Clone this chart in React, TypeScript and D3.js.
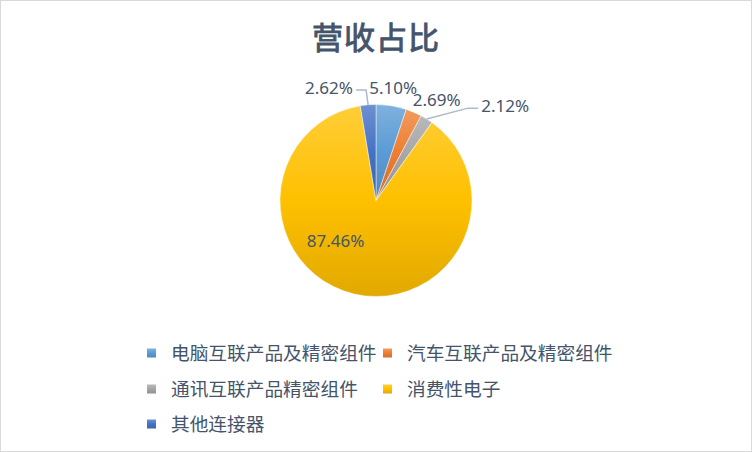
import * as React from "react"
import * as d3 from "d3"

const categories = ["电脑互联产品及精密组件", "汽车互联产品及精密组件", "通讯互联产品精密组件", "消费性电子", "其他连接器"]
const shares = [5.10, 2.69, 2.12, 87.46, 2.62]
const colors = ["#5B9BD5", "#ED7D31", "#A5A5A5", "#FFC000", "#4472C4"]
const title = "营收占比"

// label layout per slice: radius, angle shift (deg), leader line
const labelLayout = [
    { r: 114, da: -0.5, leader: false },
    { r: 117, da: 8, leader: false },
    { r: 160, da: 22, leader: true },
    { r: 57, da: 32, leader: false },
    { r: 122, da: -18, leader: true },
]

const App = () => {
    const [w, h] = [752, 452]
    const [cx, cy, R] = [376, 200.5, 96]
    const textColor = "#44546A"
    const font = "'Noto Sans CJK SC', 'Noto Sans', sans-serif"
    const labelSize = 17

    const data = categories.map((name, i) => ({ name, value: shares[i], color: colors[i], i }))
    const pie = d3.pie<typeof data[0]>().value(d => d.value).sort(null)
    const arcs = pie(data)
    const arc = d3.arc<d3.PieArcDatum<typeof data[0]>>().innerRadius(0).outerRadius(R)

    const polar = (a: number, r: number): [number, number] => [Math.sin(a) * r, -Math.cos(a) * r]

    const gradients = colors.map((c, i) => (
        <linearGradient key={i} id={`g${i}`} x1="0" y1="0" x2="0" y2="1">
            <stop offset="0" stopColor={d3.interpolateRgb(c, "#ffffff")(0.22)} />
            <stop offset="0.5" stopColor={c} />
            <stop offset="1" stopColor={d3.color(c)!.darker(0.35).formatHex()} />
        </linearGradient>
    ))

    const slices = arcs.map((a, i) => (
        <path key={i} d={arc(a) ?? ""} fill={`url(#g${i})`} stroke="#ffffff" strokeWidth={0.75} strokeOpacity={0.6} />
    ))

    const labels = arcs.map((a, i) => {
        const mid = (a.startAngle + a.endAngle) / 2
        const lay = labelLayout[i]
        const [lx, ly] = polar(mid + lay.da * Math.PI / 180, lay.r)
        const txt = `${shares[i].toFixed(2)}%`
        let leader = null
        if (lay.leader) {
            const [px, py] = polar(mid, R)
            const halfW = txt.length * labelSize * 0.285
            const side = lx > px ? -1 : 1
            const endX = lx + side * (halfW + 3)
            const elbowX = endX + side * 10
            leader = (
                <polyline
                    points={`${px},${py} ${elbowX},${ly + 2} ${endX},${ly + 2}`}
                    fill="none"
                    stroke="#ADB9CA"
                    strokeWidth={1.5}
                />
            )
        }
        return (
            <g key={i}>
                {leader}
                <text x={lx} y={ly} dy="0.35em" textAnchor="middle" fontSize={labelSize} fill={textColor} fontFamily="'Noto Sans', sans-serif">
                    {txt}
                </text>
            </g>
        )
    })

    const legendCols = [147, 383]
    const legendRows = [353, 389, 424]
    const legend = data.map((d, i) => {
        const x = legendCols[i % 2]
        const y = legendRows[Math.floor(i / 2)]
        return (
            <g key={i} transform={`translate(${x},${y})`}>
                <rect x={0} y={-4.5} width={9} height={9} fill={`url(#g${i})`} />
                <text x={24} y={0} dy="0.35em" fontSize={18.7} fill={textColor} fontFamily={font}>{d.name}</text>
            </g>
        )
    })

    return (
        <div style={{ position: "fixed", left: 0, top: 0 }}>
            <svg width={w} height={h} style={{ display: "block" }}>
                <defs>{gradients}</defs>
                <rect x={0.5} y={0.5} width={w - 1} height={h - 1} fill="#ffffff" stroke="#D9D9D9" />
                <text x={cx} y={38} dy="0.35em" textAnchor="middle" fontSize={31} letterSpacing={1}
                    fill={textColor} stroke={textColor} strokeWidth={0.9} fontFamily={font}>
                    {title}
                </text>
                <g transform={`translate(${cx},${cy})`}>
                    {slices}
                    {labels}
                </g>
                {legend}
            </svg>
        </div>
    )
}

export default App
